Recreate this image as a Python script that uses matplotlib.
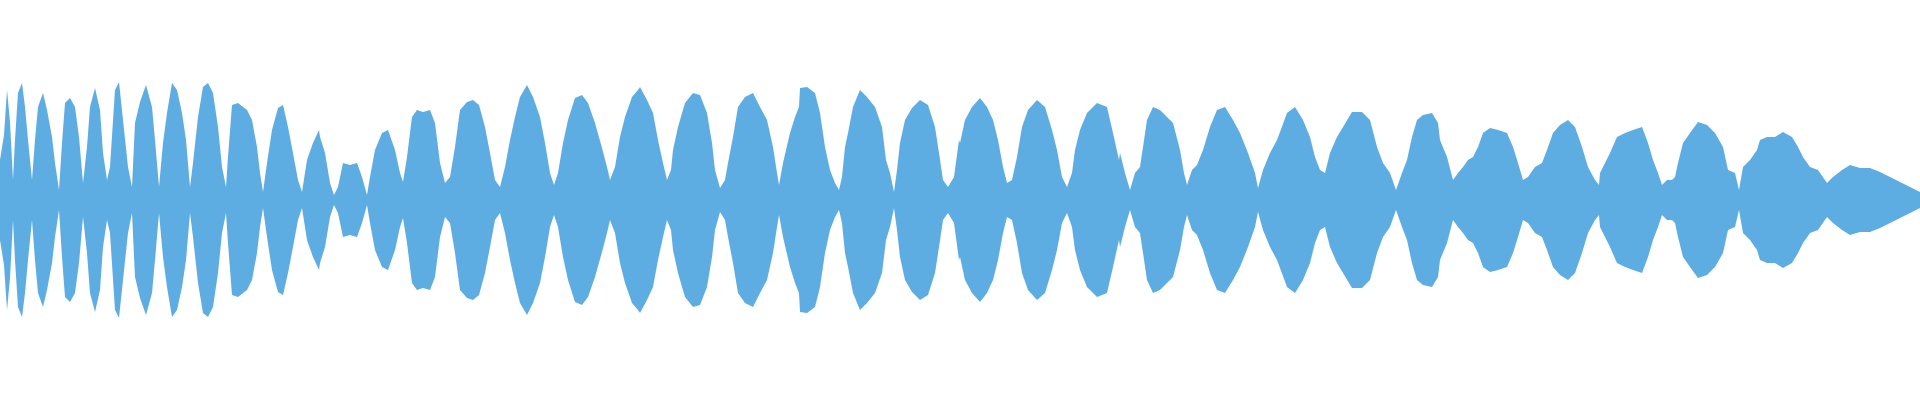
import numpy as np
import matplotlib.pyplot as plt

# envelope of the waveform
# t = time position (0..1920), amp = peak level on a +-200 scale
t = [0, 4, 7, 10, 13, 15, 18, 22, 25, 28, 32, 35, 38, 43, 47, 52, 55, 59,
     62, 65, 70, 75, 79, 83, 87, 90, 95, 100, 103, 107, 110, 115, 119, 123,
     128, 132, 135, 140, 146, 152, 155, 159,
     163, 167, 172, 177, 182, 186, 190, 193, 198, 203, 208, 213, 218, 222,
     226, 228, 232, 238, 247, 252, 257, 260, 263, 267, 272, 278, 283, 288,
     293, 298, 302, 307, 313, 319,
     320, 325, 330, 334, 338, 343, 350, 357, 362, 367, 370, 375, 382, 388,
     395, 400, 403, 407, 412, 417, 423, 430, 435, 440, 445, 450, 455, 460,
     467, 473, 479,
     485, 490, 495, 500, 505, 510, 515, 520, 527, 533, 540, 545, 550, 554,
     558, 563, 568, 575, 582, 588, 595, 602, 607, 610, 615, 620, 625, 632,
     638,
     640, 647, 653, 658, 663, 667, 671, 673, 678, 685, 693, 700, 707, 712,
     715, 720, 725, 728, 733, 738, 745, 753, 760, 767, 773, 777, 779, 783,
     790, 795, 799,
     800, 807, 815, 820, 825, 830, 835, 839, 842, 845, 848, 853, 860, 867,
     875, 882, 886, 890, 894, 897, 900, 905, 912, 920, 928, 935, 939, 943,
     948, 954, 959,
     960, 965, 972, 980, 987, 993, 998, 1003, 1007, 1012, 1017, 1022, 1028,
     1037, 1045, 1052, 1057, 1062, 1067, 1072, 1075, 1080, 1087, 1097, 1107,
     1113, 1119,
     1120, 1125, 1130, 1135, 1140, 1143, 1147, 1153, 1160, 1167, 1173, 1180,
     1184, 1187, 1192, 1197, 1203, 1210, 1217, 1225, 1233, 1240, 1248, 1255,
     1258, 1263, 1270, 1277,
     1280, 1287, 1295, 1303, 1310, 1315, 1320, 1325, 1330, 1337, 1343, 1352,
     1362, 1370, 1377, 1383, 1390, 1396, 1402, 1407, 1412, 1417, 1423, 1432,
     1438,
     1440, 1447, 1453, 1458, 1463, 1468, 1473, 1478, 1483, 1490, 1498, 1507,
     1513, 1518, 1523, 1528, 1535, 1542, 1547, 1553, 1560, 1568, 1575, 1582,
     1588, 1595, 1599,
     1600, 1605, 1610, 1617, 1625, 1633, 1642, 1648, 1653, 1658, 1662, 1667,
     1672, 1675, 1678, 1683, 1690, 1698, 1707, 1715, 1723, 1728, 1735, 1739,
     1743, 1750, 1757,
     1760, 1767, 1775, 1783, 1792, 1798, 1803, 1810, 1818, 1827, 1833, 1842,
     1850, 1860, 1870, 1880, 1890, 1900, 1910, 1920]

amp = [40, 65, 110, 78, 20, 60, 107, 117, 93, 60, 20, 60, 93, 107, 90, 63, 37, 10,
       57, 97, 102, 93, 63, 17, 53, 93, 112, 90, 47, 20, 33, 110, 118, 80,
       33, 13, 77, 98, 115, 93, 60, 13,
       57, 87, 117, 110, 87, 60, 13, 37, 83, 113, 117, 107, 73, 33,
       13, 43, 95, 97, 90, 80, 53, 27, 8, 37, 70, 92, 95, 73,
       47, 20, 8, 40, 57, 70,
       63, 47, 17, 5, 13, 37, 35, 37, 23, 5, 23, 50, 67, 70,
       50, 27, 18, 43, 83, 90, 88, 90, 77, 37, 17, 23, 53, 90,
       98, 100, 95,
       73, 47, 20, 13, 33, 60, 83, 103, 115, 103, 83, 57, 27, 15,
       27, 57, 80, 102, 105, 97, 77, 52, 33, 20, 33, 63, 83, 103,
       110,
       113, 100, 87, 60, 37, 20, 30, 50, 73, 97, 107, 105, 87, 57,
       30, 12, 20, 37, 63, 93, 103, 107, 93, 80, 53, 27, 15, 37,
       67, 83, 93,
       112, 113, 107, 87, 53, 30, 17, 10, 23, 53, 67, 93, 110, 103,
       93, 73, 40, 27, 8, 30, 57, 80, 92, 100, 95, 73, 47, 20,
       13, 23, 60,
       57, 80, 93, 102, 93, 80, 60, 33, 17, 20, 43, 73, 90,
       100, 93, 70, 50, 23, 13, 27, 50, 70, 87, 97, 93,
       67, 40,
       47, 27, 10, 27, 33, 53, 80, 93, 90, 83, 77, 50,
       27, 15, 30, 35, 50, 73, 90, 93, 80, 67, 47, 27,
       12, 30, 47, 60,
       68, 87, 93, 80, 63, 43, 30, 27, 47, 63, 73, 88,
       88, 80, 53, 37, 27, 10, 27, 40, 63, 80, 85, 87,
       77,
       60, 43, 20, 27, 33, 40, 43, 53, 67, 72, 70, 67,
       53, 37, 20, 23, 33, 37, 50, 67, 75, 80, 73, 53,
       33, 20, 15,
       27, 37, 47, 63, 67, 70, 73, 57, 40, 27, 15, 20,
       20, 23, 37, 57, 67, 78, 75, 67, 53, 30, 27, 10,
       33, 40, 50,
       60, 63, 63, 68, 63, 53, 43, 33, 30, 17, 23, 30,
       35, 32, 32, 28, 23, 18, 13, 8]

t = np.array(t)
amp = np.array(amp)

fig = plt.figure(figsize=(19.2, 4), dpi=100)
ax = fig.add_axes([0, 0, 1, 1])
ax.fill_between(t, -amp, amp, color='#5DADE2', linewidth=0)
ax.set_xlim(0, 1920)
ax.set_ylim(-200, 200)
ax.axis('off')

fig.savefig('out.png', dpi=100)
